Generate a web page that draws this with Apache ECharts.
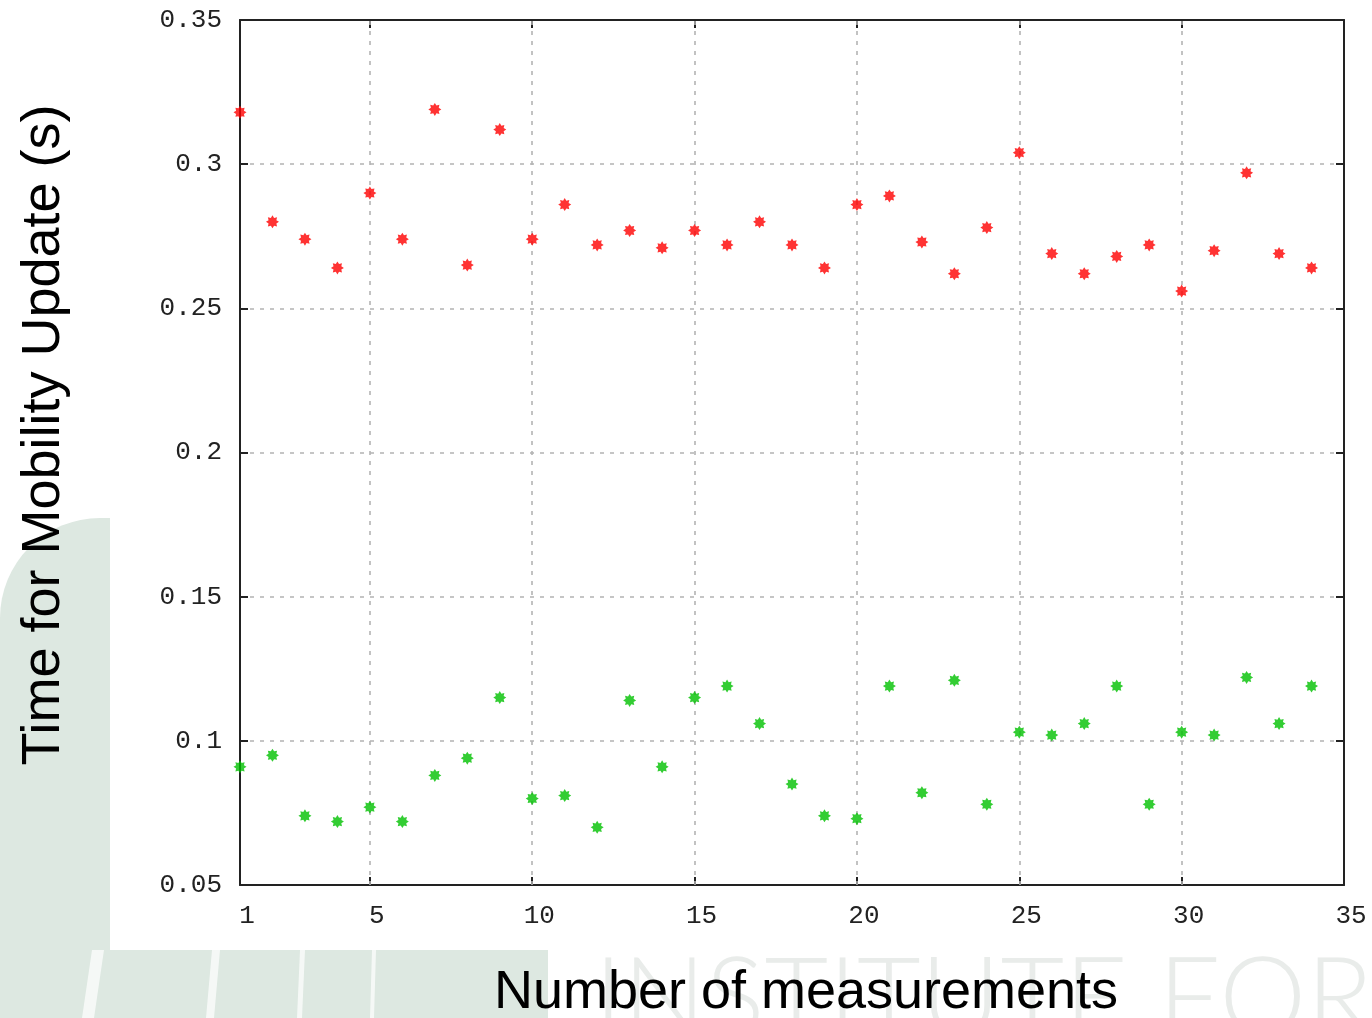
<!DOCTYPE html>
<html>
<head>
<meta charset="utf-8">
<script src="https://cdn.jsdelivr.net/npm/echarts@6/dist/echarts.min.js"></script>
<style>
html,body{margin:0;padding:0;background:#fff;}
#chart{width:1372px;height:1018px;}
</style>
</head>
<body>
<div id="chart"></div>
<script>
// ---- data ----
const measurements = [1,2,3,4,5,6,7,8,9,10,11,12,13,14,15,16,17,18,19,20,21,22,23,24,25,26,27,28,29,30,31,32,33,34];
const redTimes = [0.318,0.280,0.274,0.264,0.290,0.274,0.319,0.265,0.312,0.274,0.286,0.272,0.277,0.271,0.277,0.272,0.280,0.272,0.264,0.286,0.289,0.273,0.262,0.278,0.304,0.269,0.262,0.268,0.272,0.256,0.270,0.297,0.269,0.264];
const greenTimes = [0.091,0.095,0.074,0.072,0.077,0.072,0.088,0.094,0.115,0.080,0.081,0.070,0.114,0.091,0.115,0.119,0.106,0.085,0.074,0.073,0.119,0.082,0.121,0.078,0.103,0.102,0.106,0.119,0.078,0.103,0.102,0.122,0.106,0.119];
const xTickLabels = [1,5,10,15,20,25,30,35];
const xGridValues = [5,10,15,20,25,30];
const yTickLabels = ['0.05','0.1','0.15','0.2','0.25','0.3','0.35'];
const xTitle = 'Number of measurements';
const yTitle = 'Time for Mobility Update (s)';
const watermark = 'INSTITUTE FOR';

// ---- style ----
const star = 'path://M20,10L16.0,12.5L17.07,17.07L12.5,16.0L10,20L7.5,16.0L2.93,17.07L4.0,12.5L0,10L4.0,7.5L2.93,2.93L7.5,4.0L10,0L12.5,4.0L17.07,2.93L16.0,7.5Z';
const gridStyle = {color:'#b3b3b3', width:1.6, type:[4,6]};
const axisLineStyle = {color:'#222', width:2};
const tickFont = {fontFamily:'Liberation Mono', fontSize:26, color:'#222'};
const wash = '#dde8e1';

const chart = echarts.init(document.getElementById('chart'), null, {renderer:'canvas'});

const pair = (xs, ys) => xs.map((x,i)=>[x, ys[i]]);

chart.setOption({
  backgroundColor:'#ffffff',
  animation:false,
  graphic:[
    {type:'rect', z:-10, silent:true, shape:{x:0, y:518, width:110, height:500, r:[100,0,0,0]}, style:{fill:wash}},
    {type:'rect', z:-10, silent:true, shape:{x:0, y:950, width:548, height:68}, style:{fill:wash}},
    {type:'polygon', z:-9, silent:true, shape:{points:[[92,950],[104,950],[94,1018],[82,1018]]}, style:{fill:'#fff', opacity:0.7}},
    {type:'polygon', z:-9, silent:true, shape:{points:[[212,950],[220,950],[214,1018],[206,1018]]}, style:{fill:'#fff', opacity:0.7}},
    {type:'polygon', z:-9, silent:true, shape:{points:[[300,950],[305,950],[302,1018],[297,1018]]}, style:{fill:'#fff', opacity:0.7}},
    {type:'polygon', z:-9, silent:true, shape:{points:[[372,950],[376,950],[374,1018],[370,1018]]}, style:{fill:'#fff', opacity:0.7}},
    {type:'text', z:-9, silent:true, x:594, y:946,
     style:{text:watermark, fill:'#e9ecea', font:'300 110px Lato', textAlign:'left', textVerticalAlign:'top'}},
    {type:'text', z:50, x:44, y:435, rotation:Math.PI/2,
     style:{text:yTitle, fill:'#000', font:'54px "Liberation Sans"', textAlign:'center', textVerticalAlign:'middle'}},
    {type:'text', z:50, x:806, y:993,
     style:{text:xTitle, fill:'#000', font:'54px "Liberation Sans"', textAlign:'center', textVerticalAlign:'middle'}}
  ],
  grid:{left:240, right:28, top:20, bottom:133, containLabel:false},
  xAxis:[
    {type:'value', position:'bottom', min:1, max:35,
     axisLine:{show:true, onZero:false, lineStyle:axisLineStyle},
     axisTick:{show:true, inside:true, length:8, customValues:xGridValues, lineStyle:axisLineStyle},
     axisLabel:{show:true, customValues:xTickLabels, margin:18, padding:[0,0,0,14], ...tickFont},
     splitLine:{show:false}},
    {type:'value', position:'top', min:1, max:35,
     axisLine:{show:true, onZero:false, lineStyle:axisLineStyle},
     axisTick:{show:true, inside:true, length:8, customValues:xGridValues, lineStyle:axisLineStyle},
     axisLabel:{show:false},
     splitLine:{show:false}}
  ],
  yAxis:[
    {type:'value', position:'left', min:0.05, max:0.35, interval:0.05,
     axisLine:{show:true, onZero:false, lineStyle:axisLineStyle},
     axisTick:{show:true, inside:true, length:8, lineStyle:axisLineStyle},
     axisLabel:{show:true, margin:18, ...tickFont,
       formatter:(v)=>{ const s = (Math.round(v*100)/100).toString(); return yTickLabels.includes(s)? s : ''; }},
     splitLine:{show:true, lineStyle:gridStyle}},
    {type:'value', position:'right', min:0.05, max:0.35, interval:0.05,
     axisLine:{show:true, onZero:false, lineStyle:axisLineStyle},
     axisTick:{show:true, inside:true, length:8, lineStyle:axisLineStyle},
     axisLabel:{show:false},
     splitLine:{show:false}}
  ],
  series:[
    {type:'scatter', name:'grid', xAxisIndex:0, yAxisIndex:0, data:[], silent:true, z:1,
     markLine:{silent:true, symbol:['none','none'], label:{show:false}, animation:false,
       lineStyle:gridStyle, data:xGridValues.map(v=>({xAxis:v}))}},
    {type:'scatter', name:'red', xAxisIndex:0, yAxisIndex:0, symbol:star, symbolSize:13, z:5,
     itemStyle:{color:'#ff0000'}, data:pair(measurements, redTimes)},
    {type:'scatter', name:'green', xAxisIndex:0, yAxisIndex:0, symbol:star, symbolSize:13, z:5,
     itemStyle:{color:'#00c000'}, data:pair(measurements, greenTimes)}
  ]
});
</script>
</body>
</html>
